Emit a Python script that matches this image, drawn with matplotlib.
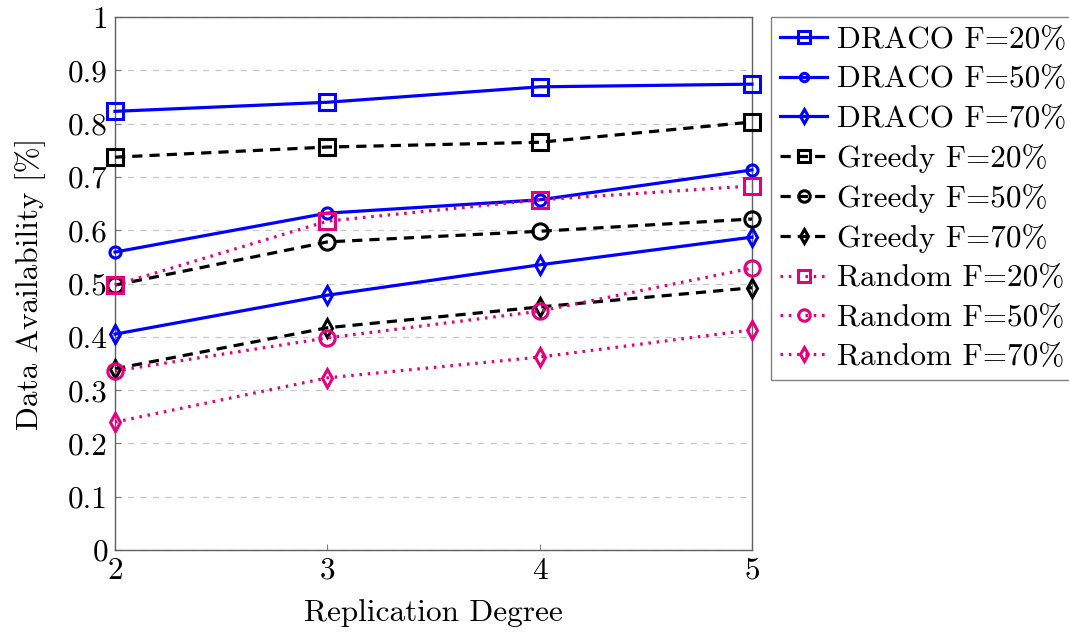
import matplotlib
matplotlib.use("Agg")
import matplotlib.pyplot as plt
import numpy as np

plt.rcParams["font.family"] = "serif"
plt.rcParams["font.serif"] = ["cmr10"]
plt.rcParams["mathtext.fontset"] = "cm"
plt.rcParams["axes.unicode_minus"] = False

replication = [2, 3, 4, 5]

draco_20 = [0.823, 0.840, 0.869, 0.874]
draco_50 = [0.559, 0.632, 0.657, 0.713]
draco_70 = [0.405, 0.478, 0.535, 0.587]
greedy_20 = [0.737, 0.756, 0.765, 0.803]
greedy_50 = [0.497, 0.578, 0.598, 0.621]
greedy_70 = [0.340, 0.417, 0.456, 0.492]
random_20 = [0.497, 0.617, 0.657, 0.683]
random_50 = [0.336, 0.398, 0.448, 0.529]
random_70 = [0.240, 0.323, 0.362, 0.413]

y_ticks = [0, 0.1, 0.2, 0.3, 0.4, 0.5, 0.6, 0.7, 0.8, 0.9, 1]
y_tick_labels = ["0", "0.1", "0.2", "0.3", "0.4", "0.5", "0.6", "0.7", "0.8", "0.9", "1"]

blue = "#0000ff"
black = "#000000"
pink = "#e6007e"

series = [
    ("DRACO F=20%", draco_20, blue, "-", "s", 11),
    ("DRACO F=50%", draco_50, blue, "-", "o", 8),
    ("DRACO F=70%", draco_70, blue, "-", "d", 9),
    ("Greedy F=20%", greedy_20, black, (0, (3.2, 2.2)), "s", 11),
    ("Greedy F=50%", greedy_50, black, (0, (3.2, 2.2)), "o", 11),
    ("Greedy F=70%", greedy_70, black, (0, (3.2, 2.2)), "d", 9),
    ("Random F=20%", random_20, pink, (0, (0.8, 1.8)), "s", 11),
    ("Random F=50%", random_50, pink, (0, (0.8, 1.8)), "o", 11),
    ("Random F=70%", random_70, pink, (0, (0.8, 1.8)), "d", 9),
]

fs = 22.5

fig = plt.figure(figsize=(10.69, 6.35), dpi=100)
ax = fig.add_axes([115 / 1069, 85 / 635, 637 / 1069, 533 / 635])

for label, vals, col, ls, mk, ms in series:
    ax.plot(replication, vals, color=col, linestyle=ls, linewidth=2.3,
            marker=mk, markersize=ms, markerfacecolor="none",
            markeredgecolor=col, markeredgewidth=2.2, label=label,
            clip_on=False, zorder=3)

ax.set_xlim(2, 5)
ax.set_ylim(0, 1)
ax.set_xticks(replication)
ax.set_yticks(y_ticks)
ax.set_yticklabels(y_tick_labels)
ax.grid(axis="y", color="#c8c8c8", linestyle=(0, (5, 5)), linewidth=0.9)
ax.set_axisbelow(True)
ax.tick_params(direction="in", length=4, labelsize=fs, color="#808080", pad=5)
for s in ax.spines.values():
    s.set_color("#606060")
    s.set_linewidth(1.0)

ax.set_xlabel("Replication Degree", fontsize=fs, labelpad=10)
ax.set_ylabel("Data Availability [%]", fontsize=fs, labelpad=16)

leg = ax.legend(loc="upper left", bbox_to_anchor=(1.03, 1.0), fontsize=fs,
                frameon=True, fancybox=False, edgecolor="#606060",
                borderpad=0.3, labelspacing=0.36, handlelength=1.5,
                handletextpad=0.3, borderaxespad=0.0, markerscale=0.75)
leg.get_frame().set_linewidth(1.0)

fig.savefig("out.png", dpi=100)
